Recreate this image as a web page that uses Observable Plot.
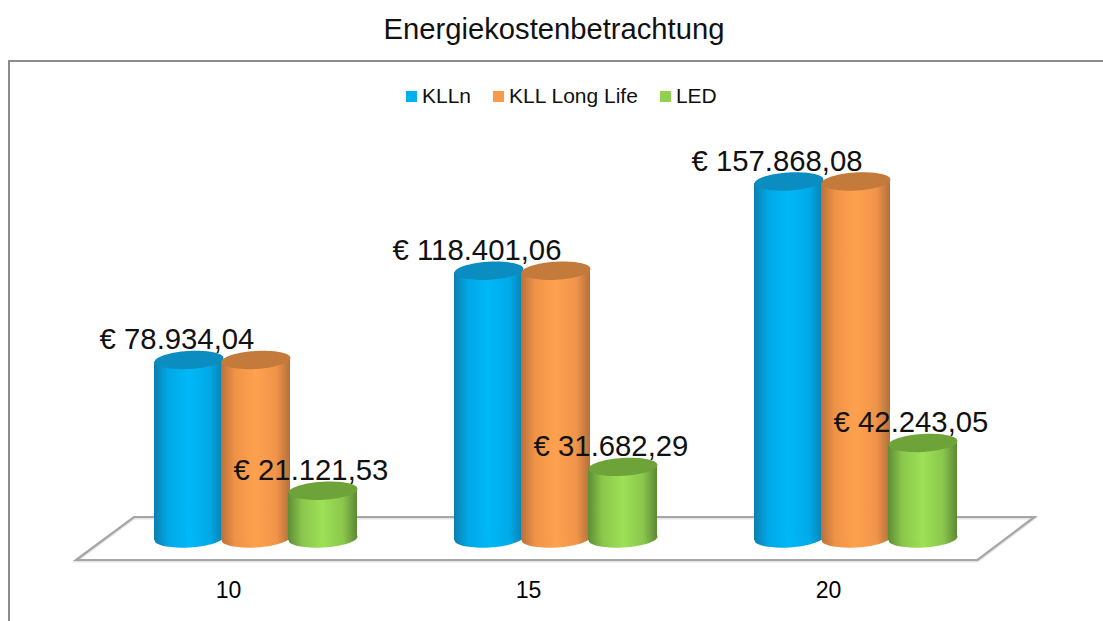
<!DOCTYPE html>
<html><head><meta charset="utf-8">
<script src="https://cdn.jsdelivr.net/npm/d3@7"></script>
<script src="https://cdn.jsdelivr.net/npm/@observablehq/plot@0.6"></script>
<style>
html,body{margin:0;padding:0;background:#fff;overflow:hidden}
body{width:1103px;height:621px;position:relative;font-family:"Liberation Sans",Arial,sans-serif;color:#000}
#title{position:absolute;left:0;width:1108px;top:12px;text-align:center;font-size:29.2px;line-height:34px;color:#111}
#frame{position:absolute;left:8px;top:60px;width:1120px;height:590px;border:2px solid #8c8c8c;box-sizing:content-box}
#legend{position:absolute;left:406px;top:84px;height:24px;display:flex;align-items:center;font-size:21px;line-height:24px;white-space:nowrap;color:#111}
#legend i{display:inline-block;width:11px;height:11px;margin-right:5px}
#legend span{display:flex;align-items:center}
#chart{position:absolute;left:0;top:0}
</style></head><body>
<div id="frame"></div>
<div id="title">Energiekostenbetrachtung</div>
<div id="legend"></div>
<div id="chart"></div>
<script>
const years = [10, 15, 20];
const seriesNames = ["KLLn", "KLL Long Life", "LED"];
const kllnValues = [78934.04, 118401.06, 157868.08];
const longLifeValues = [78934.04, 118401.06, 157868.08];
const ledValues = [21121.53, 31682.29, 42243.05];
const swatchColors = ["#00b0f0", "#f99a48", "#92d050"];
const topColors = ["#0b8dc2", "#c47a3a", "#6ea33a"];
const gradients = [
  ["#0c7fae", "#00a8e6", "#00b8f7", "#00aae8", "#0a80ae"],
  ["#b9713a", "#ef9347", "#ffa14e", "#f0944a", "#b3703a"],
  ["#5e8c35", "#8ac64b", "#9de156", "#8ac64c", "#5c8834"]
];

const rows = [kllnValues, longLifeValues, ledValues].flatMap((vals, s) =>
  vals.map((value, i) => ({year: years[i], series: seriesNames[s], s, value})));
const fmt = v => "€ " + new Intl.NumberFormat("de-DE", {minimumFractionDigits: 2, maximumFractionDigits: 2}).format(v);

const legend = document.getElementById("legend");
const legendGaps = [22, 22, 0];
seriesNames.forEach((n, i) => {
  const el = document.createElement("span");
  el.style.marginRight = legendGaps[i] + "px";
  el.innerHTML = `<i style="background:${swatchColors[i]}"></i>${n}`;
  legend.appendChild(el);
});

// elliptical symbol drawn with Béziers, so cylinder caps stay real Plot dots
const ellipse = {
  draw(ctx, size) {
    const rx = Math.sqrt(size / Math.PI), ry = rx * 0.26, k = 0.5523;
    ctx.moveTo(-rx, 0);
    ctx.bezierCurveTo(-rx, -k * ry, -k * rx, -ry, 0, -ry);
    ctx.bezierCurveTo(k * rx, -ry, rx, -k * ry, rx, 0);
    ctx.bezierCurveTo(rx, k * ry, k * rx, ry, 0, ry);
    ctx.bezierCurveTo(-k * rx, ry, -rx, k * ry, -rx, 0);
    ctx.closePath();
  }
};
const tilt = -3.5;

const skewBars = (index, scales, values, dims, ctx, next) => {
  const g = next(index, scales, values, dims, ctx);
  d3.select(g).selectAll("rect").each(function () {
    const cx = +this.getAttribute("x") + this.getAttribute("width") / 2;
    const cy = +this.getAttribute("y") + this.getAttribute("height") / 2;
    this.setAttribute("transform", `translate(${cx},${cy}) skewY(${tilt}) translate(${-cx},${-cy})`);
  });
  return g;
};

const defs = () => {
  const d = d3.create("svg:defs");
  gradients.forEach((stops, i) => {
    const lg = d.append("linearGradient").attr("id", "cyl" + i);
    stops.forEach((c, j) => lg.append("stop")
      .attr("offset", [0, 0.2, 0.5, 0.8, 1][j]).attr("stop-color", c));
  });
  return d.node();
};

const floor = Plot.frame({
  facet: "super",
  render(index, scales, values, dims) {
    const y0 = scales.y(0), l = dims.marginLeft, r = dims.width - dims.marginRight;
    const top = y0 - 21, bottom = y0 + 22;
    const pts = [[l - 20.5, top], [r + 79, top], [r + 22, bottom], [l - 78.5, bottom]];
    const path = d3.create("svg:g");
    path.append("path").attr("d", "M" + pts.join("L") + "Z").attr("fill", "none")
      .attr("stroke", "#e4e4e4").attr("stroke-width", 2.5).attr("transform", "translate(0,1.2)");
    path.append("path").attr("d", "M" + pts.join("L") + "Z").attr("fill", "none")
      .attr("stroke", "#a6a6a6").attr("stroke-width", 2.2);
    return path.node();
  }
});

const cylinder = (name, i) => {
  const data = rows.filter(d => d.series === name);
  const fill = `url(#cyl${i})`;
  return [
    Plot.dot(data, {x: "series", fx: "year", y: () => 0, r: 34.5, symbol: ellipse, rotate: tilt, fill, stroke: "none"}),
    Plot.barY(data, {x: "series", fx: "year", y: "value", fill, insetLeft: -1, insetRight: -1, render: skewBars}),
    Plot.dot(data, {x: "series", fx: "year", y: "value", r: 34.5, symbol: ellipse, rotate: tilt, fill: topColors[i], stroke: "none"})
  ];
};

const labelled = rows.filter(d => d.series !== "KLL Long Life");

const chart = Plot.plot({
  width: 1103, height: 621,
  marginTop: 181, marginBottom: 83, marginLeft: 154.5, marginRight: 147.5,
  style: {background: "transparent", fontFamily: '"Liberation Sans",Arial,sans-serif'},
  x: {domain: seriesNames, padding: 0, axis: null},
  y: {domain: [0, 157868.08], axis: null},
  fx: {domain: years, paddingInner: 0.33, paddingOuter: 0, round: false, label: null},
  marks: [
    defs,
    floor,
    Plot.axisFx({anchor: "bottom", tickSize: 0, tickPadding: 43, fontSize: 23, dx: -27, label: null, fill: "#000"}),
    seriesNames.map(cylinder),
    Plot.text(labelled, {x: "series", fx: "year", y: "value", text: d => fmt(d.value), dx: -12, dy: -20, fontSize: 29.3, fill: "#111"})
  ]
});
document.getElementById("chart").appendChild(chart);
</script>
</body></html>
